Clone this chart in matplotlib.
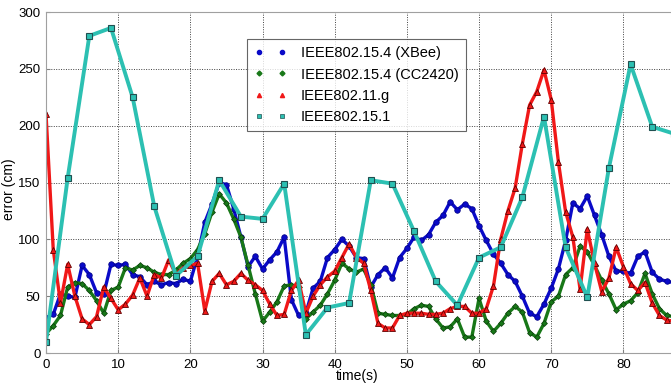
import matplotlib.pyplot as plt
import numpy as np
from matplotlib.lines import Line2D

# sample times (1 s for 802.15.4 / 802.11g, 3 s for 802.15.1)
t_fast = np.arange(0, 88)
t_bt = np.arange(0, 88, 3)

xbee = [31, 34, 52, 50, 49, 77, 69, 53, 52, 78,
        77, 78, 69, 67, 60, 63, 60, 62, 61, 65,
        63, 85, 115, 131, 150, 148, 127, 102, 76, 85,
        74, 82, 89, 102, 47, 33, 35, 57, 63, 84,
        91, 100, 94, 84, 83, 58, 69, 75, 66, 84,
        92, 102, 99, 104, 115, 121, 133, 126, 131, 127,
        112, 99, 87, 79, 69, 63, 50, 35, 32, 43,
        57, 74, 99, 132, 127, 138, 121, 104, 85, 72,
        72, 70, 85, 89, 71, 65, 63, 62]

cc2420 = [17, 24, 33, 58, 62, 61, 55, 46, 35, 55,
          58, 75, 73, 77, 75, 71, 69, 69, 73, 79,
          83, 91, 105, 124, 140, 132, 118, 102, 77, 52,
          28, 36, 45, 59, 60, 58, 30, 36, 42, 52,
          64, 79, 74, 71, 74, 60, 35, 34, 33, 33,
          34, 39, 42, 41, 30, 22, 23, 30, 14, 14,
          48, 28, 19, 26, 35, 41, 36, 18, 14, 26,
          45, 50, 69, 75, 94, 89, 77, 64, 52, 38,
          43, 46, 53, 70, 52, 39, 33, 32]

wifi = [210, 91, 44, 78, 50, 30, 25, 32, 58, 48,
        38, 43, 51, 66, 50, 69, 66, 82, 69, 75,
        77, 79, 37, 63, 70, 60, 63, 70, 64, 60,
        55, 43, 33, 34, 55, 64, 35, 50, 60, 67,
        72, 84, 96, 84, 79, 55, 26, 22, 22, 33,
        35, 35, 35, 34, 34, 35, 39, 41, 41, 35,
        35, 39, 59, 100, 125, 145, 184, 218, 230, 249,
        223, 168, 124, 102, 56, 109, 79, 54, 66, 93,
        76, 61, 55, 62, 44, 33, 29, 28]

bt = [10, 154, 279, 286, 225, 129, 68, 85, 152, 120,
      118, 149, 16, 40, 44, 152, 149, 107, 63, 42,
      84, 93, 137, 208, 93, 49, 163, 254, 199, 193]

labels = ['IEEE802.15.4 (XBee)', 'IEEE802.15.4 (CC2420)',
          'IEEE802.11.g', 'IEEE802.15.1']

plt.rcParams['font.family'] = ['Liberation Sans', 'DejaVu Sans']

fig = plt.figure(figsize=(6.71, 3.85), dpi=100)
ax = fig.add_axes([0.0686, 0.0831, 0.9314, 0.8857])

c_blue = '#0a0ac8'
c_green = '#187818'
c_red = '#f01818'
c_cyan = '#2cc0b2'

ax.plot(t_fast, xbee, color=c_blue, lw=2.4, marker='o', ms=4,
        mfc=c_blue, mec='#000080', mew=0.5)
ax.plot(t_fast, cc2420, color=c_green, lw=2.4, marker='D', ms=3,
        mfc=c_green, mec='#0a3a0a', mew=0.5)
ax.plot(t_fast, wifi, color=c_red, lw=2.4, marker='^', ms=4,
        mfc=c_red, mec='#600000', mew=0.6)
ax.plot(t_bt, bt, color=c_cyan, lw=2.8, marker='s', ms=5,
        mfc=c_cyan, mec='#205050', mew=0.8)

ax.set_xlim(0, 86.6)
ax.set_ylim(0, 300)
ax.set_xticks(np.arange(0, 90, 10))
ax.set_yticks(np.arange(0, 301, 50))
ax.tick_params(direction='in', length=3, labelsize=9.5, color='#808080', pad=4)
ax.grid(True, linestyle=(0, (1, 1.5)), color='#404040', lw=0.7)
for side in ['left', 'bottom', 'top']:
    ax.spines[side].set_color('#a0a0a0')
ax.spines['right'].set_visible(False)

ax.set_xlabel('time(s)', fontsize=10)
ax.set_ylabel('error (cm)', fontsize=10)
ax.xaxis.set_label_coords(0.4976, -0.067)
ax.xaxis.label.set_va('center')
ax.yaxis.set_label_coords(-0.059, 0.48)
ax.yaxis.label.set_va('center')

handles = [
    Line2D([], [], ls='none', marker='o', ms=3, color=c_blue),
    Line2D([], [], ls='none', marker='D', ms=2.5, color=c_green),
    Line2D([], [], ls='none', marker='^', ms=3, color=c_red),
    Line2D([], [], ls='none', marker='s', ms=3, color=c_cyan, mec='#205050', mew=0.5),
]
leg = ax.legend(handles, labels, loc='upper left', bbox_to_anchor=(0.3216, 0.921),
                borderaxespad=0, numpoints=2, fontsize=10.5, frameon=True,
                fancybox=False, edgecolor='#404040', handlelength=2.2,
                labelspacing=0.5, borderpad=0.5, handletextpad=1.0)
leg.get_frame().set_linewidth(0.8)

fig.savefig('out.png', dpi=100)
